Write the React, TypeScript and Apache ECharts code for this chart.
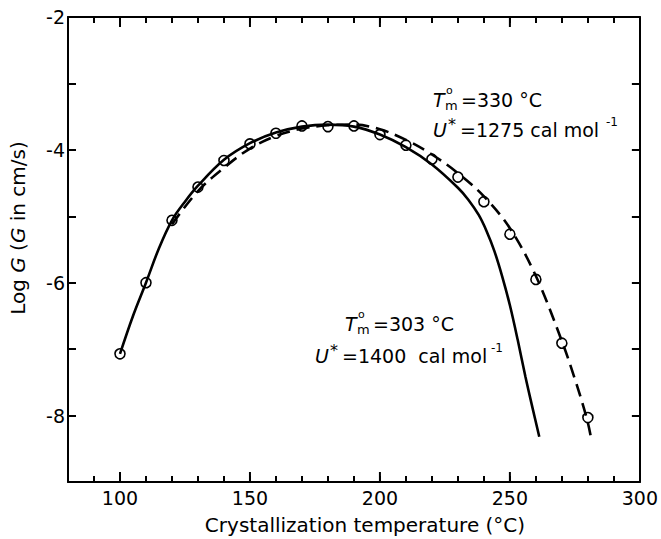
import React, { useEffect, useRef } from "react";
import * as echarts from "echarts";

const FONT = '"DejaVu Sans", sans-serif';

// Measured growth rates (open circles)
const temps = [100, 110, 120, 130, 140, 150, 160, 170, 180, 190, 200, 210, 220, 230, 240, 250, 260, 270, 280];
const logG = [-7.07, -6.0, -5.06, -4.56, -4.16, -3.91, -3.75, -3.64, -3.65, -3.64, -3.77, -3.93, -4.14, -4.41, -4.78, -5.27, -5.95, -6.91, -8.03];

// Fit with Tm° = 303 °C, U* = 1400 cal/mol (solid curve)
const solidT = [100, 105, 110, 115, 120, 125, 130, 140, 150, 160, 170, 180, 190, 200, 210, 220, 230, 234, 238, 241, 244, 247, 250, 253, 256, 258.5, 261.3];
const solidLogG = [-7.07, -6.5, -6.0, -5.48, -5.06, -4.78, -4.54, -4.15, -3.9, -3.74, -3.65, -3.62, -3.65, -3.77, -3.96, -4.22, -4.57, -4.75, -4.98, -5.22, -5.52, -5.9, -6.34, -6.86, -7.42, -7.85, -8.32];

// Fit with Tm° = 330 °C, U* = 1275 cal/mol (dashed curve)
const dashT = [120, 130, 140, 150, 160, 170, 180, 190, 200, 210, 220, 230, 240, 250, 260, 270, 275, 279.5, 281.2];
const dashLogG = [-5.12, -4.62, -4.27, -3.98, -3.79, -3.68, -3.63, -3.62, -3.69, -3.85, -4.07, -4.35, -4.7, -5.18, -5.9, -6.88, -7.45, -8.03, -8.33];

// Axis ticks and labels
const xMajor = [100, 150, 200, 250];
const xLabels = [100, 150, 200, 250, 300];
const yLabels = [-8, -6, -4, -2];
const X_MIN = 80;
const X_MAX = 300;
const Y_MIN = -9;
const Y_MAX = -2;

const BLACK = "#000";

const pairs = (xs: number[], ys: number[]) => xs.map((x, i) => [x, ys[i]]);

// One piece of annotation text, centred vertically on y
function piece(x: number, y: number, text: string, size: number, fontStyle = "normal") {
  return {
    text,
    left: x,
    top: y - size / 2,
    padding: 0,
    textStyle: {
      fontSize: size,
      fontFamily: FONT,
      fontStyle,
      fontWeight: "normal",
      color: BLACK,
    },
  };
}

// "T°m = … °C" on one line and "U* = … cal mol⁻¹" on the next
function fitLabel(x: number, y: number, tm: string, ux: number, uy: number, uText: string, supX: number) {
  return [
    piece(x, y, "T", 19, "italic"),
    piece(x + 13, y - 10, "o", 11),
    piece(x + 12, y + 5, "m", 13),
    piece(x + 28, y, "=" + tm + " °C", 19),
    piece(ux, uy, "U", 19, "italic"),
    piece(ux + 15, uy - 6, "*", 16),
    piece(ux + 27, uy, uText, 19),
    piece(supX, uy - 8, "-1", 12),
  ];
}

const tickStyle = (len: number) => ({ show: true, inside: true, length: len, lineStyle: { color: BLACK, width: 2 } });

const xBase = {
  type: "value",
  min: X_MIN,
  max: X_MAX,
  interval: 10,
  splitLine: { show: false },
  axisLine: { show: true, lineStyle: { color: BLACK, width: 2 } },
  axisTick: tickStyle(6),
};

const yBase = {
  type: "value",
  min: Y_MIN,
  max: Y_MAX,
  interval: 1,
  splitLine: { show: false },
  axisLine: { show: true, lineStyle: { color: BLACK, width: 2 } },
  axisTick: tickStyle(8),
};

// Longer ticks every 50 °C, drawn through the x scale from the frame edge inwards
function majorTickSeries(edge: number, dir: number) {
  return {
    type: "custom",
    xAxisIndex: 0,
    yAxisIndex: 0,
    silent: true,
    data: xMajor.map((v) => [v, edge]),
    renderItem: (params: any, api: any) => {
      const c = api.coord([api.value(0), api.value(1)]);
      return {
        type: "line",
        shape: { x1: c[0], y1: c[1], x2: c[0], y2: c[1] + dir * 10 },
        style: { stroke: BLACK, lineWidth: 2 },
      };
    },
  };
}

const option = {
  animation: false,
  backgroundColor: "#fff",
  title: [
    ...fitLabel(433, 100, "330", 433, 130, "=1275 cal mol", 606),
    ...fitLabel(345, 324, "303", 315, 356, "=1400  cal mol", 491),
  ],
  grid: { left: 68, right: 16, top: 17, bottom: 57 },
  xAxis: [
    {
      ...xBase,
      position: "bottom",
      axisLabel: {
        show: true,
        formatter: (v: number) => (xLabels.includes(v) ? String(v) : ""),
        color: BLACK,
        fontSize: 19,
        fontFamily: FONT,
        margin: 6,
      },
    },
    { ...xBase, position: "top", axisLabel: { show: false } },
  ],
  yAxis: [
    {
      ...yBase,
      position: "left",
      axisLabel: {
        show: true,
        formatter: (v: number) => (yLabels.includes(v) ? String(v) : ""),
        color: BLACK,
        fontSize: 19,
        fontFamily: FONT,
        margin: 3,
      },
    },
    { ...yBase, position: "right", axisLabel: { show: false } },
  ],
  series: [
    {
      name: "Tm° = 303 °C, U* = 1400 cal/mol",
      type: "line",
      xAxisIndex: 0,
      yAxisIndex: 0,
      data: pairs(solidT, solidLogG),
      smooth: 0.35,
      showSymbol: false,
      symbol: "none",
      lineStyle: { color: BLACK, width: 2.6 },
    },
    {
      name: "Tm° = 330 °C, U* = 1275 cal/mol",
      type: "line",
      xAxisIndex: 0,
      yAxisIndex: 0,
      data: pairs(dashT, dashLogG),
      smooth: 0.35,
      showSymbol: false,
      symbol: "none",
      lineStyle: { color: BLACK, width: 2.6, type: [13, 7] },
    },
    {
      name: "Measured",
      type: "scatter",
      xAxisIndex: 0,
      yAxisIndex: 0,
      data: pairs(temps, logG),
      symbol: "circle",
      symbolSize: 10,
      itemStyle: { color: "#fff", borderColor: BLACK, borderWidth: 1.6, opacity: 1 },
    },
    majorTickSeries(Y_MIN, -1),
    majorTickSeries(Y_MAX, 1),
  ],
  graphic: [
    {
      type: "text",
      x: 18,
      y: 228,
      rotation: Math.PI / 2,
      silent: true,
      style: {
        text: "Log {i|G} ({i|G} in cm/s)",
        fontSize: 20,
        fontFamily: FONT,
        fill: BLACK,
        align: "center",
        verticalAlign: "middle",
        rich: { i: { fontStyle: "italic", fontSize: 20, fontFamily: FONT, fill: BLACK } },
      },
    },
    {
      type: "text",
      x: 365,
      y: 525,
      silent: true,
      style: {
        text: "Crystallization temperature (°C)",
        fontSize: 20,
        fontFamily: FONT,
        fill: BLACK,
        align: "center",
        verticalAlign: "middle",
      },
    },
  ],
};

export default function App() {
  const ref = useRef<HTMLDivElement>(null);
  useEffect(() => {
    if (!ref.current) return;
    const chart = echarts.init(ref.current, null, { renderer: "svg" });
    chart.setOption(option as any);
    return () => chart.dispose();
  }, []);
  return (
    <div
      ref={ref}
      style={{ position: "fixed", left: 0, top: 0, width: 661, height: 539, background: "#fff" }}
    />
  );
}
